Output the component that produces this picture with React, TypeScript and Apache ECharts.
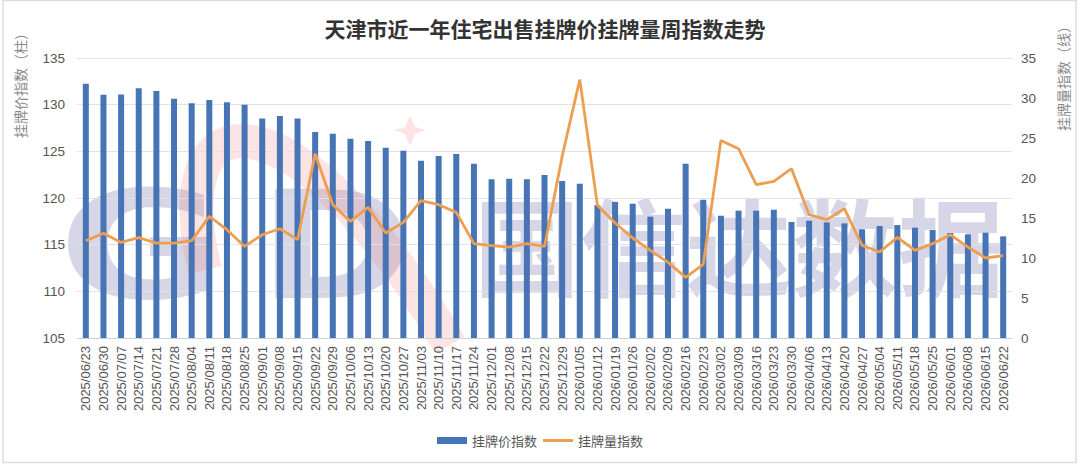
import React, { useEffect, useRef } from "react";
import * as echarts from "echarts";

const titleText = "天津市近一年住宅出售挂牌价挂牌量周指数走势";
const leftAxisName = "挂牌价指数（柱）";
const rightAxisName = "挂牌量指数（线）";
const barName = "挂牌价指数";
const lineName = "挂牌量指数";

const categories = [
  "2025/06/23", "2025/06/30", "2025/07/07", "2025/07/14", "2025/07/21", "2025/07/28",
  "2025/08/04", "2025/08/11", "2025/08/18", "2025/08/25", "2025/09/01", "2025/09/08",
  "2025/09/15", "2025/09/22", "2025/09/29", "2025/10/06", "2025/10/13", "2025/10/20",
  "2025/10/27", "2025/11/03", "2025/11/10", "2025/11/17", "2025/11/24", "2025/12/01",
  "2025/12/08", "2025/12/15", "2025/12/22", "2025/12/29", "2026/01/05", "2026/01/12",
  "2026/01/19", "2026/01/26", "2026/02/02", "2026/02/09", "2026/02/16", "2026/02/23",
  "2026/03/02", "2026/03/09", "2026/03/16", "2026/03/23", "2026/03/30", "2026/04/06",
  "2026/04/13", "2026/04/20", "2026/04/27", "2026/05/04", "2026/05/11", "2026/05/18",
  "2026/05/25", "2026/06/01", "2026/06/08", "2026/06/15", "2026/06/22",
];

const priceIndex = [
  132.25, 131.06, 131.1, 131.75, 131.46, 130.64, 130.14, 130.5, 130.25, 130.0,
  128.53, 128.78, 128.53, 127.07, 126.89, 126.35, 126.1, 125.39, 125.07, 124.0,
  124.5, 124.71, 123.68, 122.0, 122.07, 122.0, 122.46, 121.82, 121.53, 119.21,
  119.57, 119.39, 118.0, 118.86, 123.68, 119.82, 118.1, 118.64, 118.64, 118.75,
  117.43, 117.57, 117.39, 117.28, 116.64, 117.0, 117.1, 116.82, 116.57, 116.25,
  116.1, 116.28, 115.89,
];

const volumeIndex = [
  12.16, 13.1, 11.95, 12.54, 11.87, 11.87, 12.16, 15.2, 13.54, 11.45,
  12.91, 13.66, 12.29, 23.04, 16.66, 14.58, 16.33, 13.12, 14.45, 17.16,
  16.66, 15.7, 11.79, 11.54, 11.37, 11.79, 11.45, 22.7, 32.29, 16.58,
  14.37, 12.5, 10.95, 9.45, 7.58, 9.2, 24.7, 23.66, 19.16, 19.58,
  21.16, 15.41, 14.79, 16.16, 11.58, 10.75, 12.58, 10.95, 11.79, 12.91,
  11.37, 10.0, 10.29,
];

const watermarkLetters = ["G", "D"];
const watermarkText = "国信达数据";

export default function App() {
  const ref = useRef<HTMLDivElement>(null);

  useEffect(() => {
    if (!ref.current) return;
    const chart = echarts.init(ref.current, undefined, { renderer: "svg" });
    const font = "'Liberation Sans', 'Noto Sans CJK SC', sans-serif";
    const cjk = "'Noto Sans CJK SC', sans-serif";
    const wmColor = "rgba(95, 95, 160, 0.26)";
    const redWm = "rgba(240, 120, 120, 0.2)";

    chart.setOption({
      animation: false,
      backgroundColor: "#ffffff",
      textStyle: { fontFamily: font },
      title: {
        text: titleText,
        left: 540,
        textAlign: "center",
        top: 12,
        textStyle: { fontFamily: cjk, fontSize: 21, fontWeight: "bold", color: "#333333" },
      },
      legend: {
        bottom: 14,
        left: "center",
        itemWidth: 30,
        itemHeight: 7,
        itemGap: 6,
        textStyle: { fontFamily: cjk, fontSize: 13, color: "#555555" },
        data: [
          { name: barName, icon: "rect" },
          { name: lineName, icon: "path://M0,0H30V3H0Z" },
        ],
      },
      grid: { left: 77, right: 68, top: 58, bottom: 128 },
      xAxis: {
        type: "category",
        data: categories,
        axisLine: { show: true, lineStyle: { color: "#d0d0d0" } },
        axisTick: { show: false },
        axisLabel: {
          rotate: 90,
          interval: 0,
          fontSize: 13,
          color: "#555555",
          margin: 8,
          fontFamily: font,
        },
      },
      yAxis: [
        {
          type: "value",
          min: 105,
          max: 135,
          interval: 5,
          axisLine: { show: false },
          axisTick: { show: false },
          axisLabel: { fontSize: 13.5, color: "#555555", margin: 12, fontFamily: font },
          splitLine: { lineStyle: { color: "#e3e3e3", width: 1 } },
        },
        {
          type: "value",
          min: 0,
          max: 35,
          interval: 5,
          position: "right",
          axisLine: { show: false },
          axisTick: { show: false },
          axisLabel: { fontSize: 13.5, color: "#555555", margin: 9, fontFamily: font },
          splitLine: { show: false },
        },
      ],
      graphic: [
        {
          type: "rect",
          silent: true,
          z: 100,
          shape: { x: 3, y: 0.5, width: 1073, height: 462 },
          style: { fill: "none", stroke: "#dddddd", lineWidth: 1.5 },
        },
        {
          type: "text",
          x: 20,
          y: 82,
          rotation: Math.PI / 2,
          style: {
            text: leftAxisName,
            fontFamily: cjk,
            fontSize: 14,
            fill: "#8a8a8a",
            align: "center",
            verticalAlign: "middle",
          },
        },
        {
          type: "text",
          x: 1063,
          y: 75,
          rotation: Math.PI / 2,
          style: {
            text: rightAxisName,
            fontFamily: cjk,
            fontSize: 14,
            fill: "#8a8a8a",
            align: "center",
            verticalAlign: "middle",
          },
        },
        {
          type: "group",
          silent: true,
          z: -10,
          children: [
            {
              type: "text",
              x: 58,
              y: 246,
              scaleX: 1.35,
              style: {
                text: watermarkLetters[0],
                fontFamily: "'DejaVu Sans', sans-serif",
                fontWeight: "bold",
                fontSize: 150,
                fill: wmColor,
                align: "left",
                verticalAlign: "middle",
              },
            },
            {
              type: "text",
              x: 258,
              y: 246,
              scaleX: 1.25,
              style: {
                text: watermarkLetters[1],
                fontFamily: "'DejaVu Sans', sans-serif",
                fontWeight: "bold",
                fontSize: 150,
                fill: wmColor,
                align: "left",
                verticalAlign: "middle",
              },
            },
            {
              type: "bezierCurve",
              shape: { x1: 205, y1: 270, cpx1: 160, cpy1: 85, cpx2: 300, cpy2: 90, x2: 450, y2: 345 },
              style: { stroke: redWm, lineWidth: 34, fill: "none" },
            },
            {
              type: "polygon",
              shape: {
                points: [
                  [410, 116], [415, 127], [426, 130], [415, 134], [410, 146],
                  [405, 134], [394, 130], [405, 127],
                ],
              },
              style: { fill: redWm },
            },
            {
              type: "text",
              x: 474,
              y: 242,
              style: {
                text: watermarkText,
                fontFamily: cjk,
                fontWeight: "bold",
                fontSize: 106,
                fill: wmColor,
                align: "left",
                verticalAlign: "middle",
              },
            },
          ],
        },
      ],
      series: [
        {
          name: barName,
          type: "bar",
          yAxisIndex: 0,
          data: priceIndex,
          barWidth: 6,
          itemStyle: { color: "#4674b4" },
          z: 2,
        },
        {
          name: lineName,
          type: "line",
          yAxisIndex: 1,
          data: volumeIndex,
          symbol: "none",
          lineStyle: { color: "#ee9e50", width: 2.8 },
          itemStyle: { color: "#ee9e50" },
          z: 3,
        },
      ],
    });

    return () => chart.dispose();
  }, []);

  return (
    <div
      ref={ref}
      style={{ position: "fixed", left: 0, top: 0, width: 1080, height: 466 }}
    />
  );
}
